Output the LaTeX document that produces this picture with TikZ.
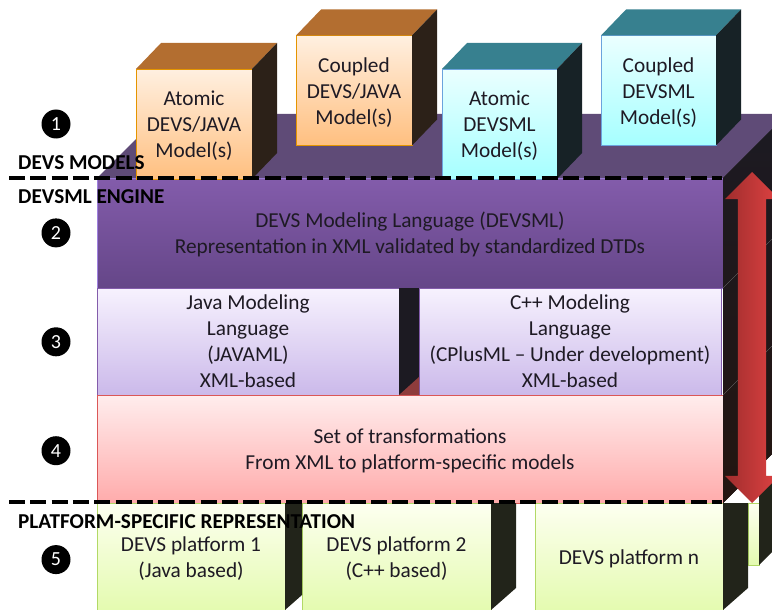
\documentclass[tikz,border=0pt]{standalone}
\usepackage{fontspec}
\setmainfont{Carlito}
\usetikzlibrary{arrows.meta, shapes, positioning, calc}
\newcommand{\headroom}{\rule{0pt}{18pt}}
\definecolor{inktext}{HTML}{1E1A24}
\definecolor{plate}{HTML}{5F4B77}
\definecolor{darkside}{HTML}{1C1A22}
\definecolor{greenside}{HTML}{22241A}
\definecolor{redface}{HTML}{8E3C3C}
\tikzset{
	box/.style = { draw, outer sep = 0, inner sep = 0, align = center, text = inktext, font = \fontsize{21.3}{26}\selectfont },
	cubejava/.style = { box, draw = orange!70!yellow!90!black, top color = orange!12!white, bottom color = orange!50!white, minimum width = 116pt, minimum height = 110pt },
	cubeml/.style = { box, draw = cyan!60!blue!60!white, top color = cyan!8!white, bottom color = cyan!35!white, minimum width = 115pt, minimum height = 110pt },
	dsl/.style = { box, draw = violet!50!blue!50!white, top color = dsltop, bottom color = dslbottom, minimum width = 626pt, minimum height = 110pt },
	lang/.style = { box, draw = dsltop, top color = langtop, bottom color = langbottom, minimum width = 302pt, minimum height = 107pt },
	transform/.style = { box, draw = red!65!gray!80, top color = red!7!white, bottom color = red!33!white, minimum width = 626pt, minimum height = 108pt },
	platform/.style = { box, draw = green!50!black!50!yellow!60, top color = platetop, bottom color = platebottom, minimum height = 107pt },
	number/.style = { circle, fill = black, text = white, inner sep = 0, minimum size = 29pt, font = \fontsize{20}{20}\selectfont },
	heading/.style = { anchor = west, inner sep = 0, text = black, font = \fontsize{21.2}{22}\selectfont\bfseries },
	divider/.style = { black, line width = 4.5pt, dash pattern = on 16pt off 5.3pt },
	topjava/.style = { fill = {rgb,255:red,179;green,110;blue,48} },
	topml/.style = { fill = {rgb,255:red,55;green,128;blue,143} },
	sidejava/.style = { fill = {rgb,255:red,44;green,33;blue,24} },
	sideml/.style = { fill = {rgb,255:red,23;green,34;blue,38} },
	updown/.style = { double arrow, double arrow tip angle = 90, double arrow head extend = 13pt, minimum width = 54pt, minimum height = 331pt, inner xsep = 0, inner ysep = 14pt, outer sep = 0, rotate = 90, left color = {rgb,255:red,160;green,45;blue,45}, right color = {rgb,255:red,222;green,66;blue,66} }
}
\definecolor{dsltop}{HTML}{835CAB}
\definecolor{dslbottom}{HTML}{654688}
\definecolor{langtop}{HTML}{F7F2FE}
\definecolor{langbottom}{HTML}{CBB9EA}
\definecolor{platetop}{HTML}{FDFFF0}
\definecolor{platebottom}{HTML}{E4FBB0}
\begin{document}
\begin{tikzpicture}[x = 1pt, y = -1pt]
	\useasboundingbox (0,0) rectangle (772,610);

	\node [dsl] (dsl) at (410,233) {\headroom DEVS Modeling Language (DEVSML)\\Representation in XML validated by standardized DTDs};
	\node [lang, below = 0pt of dsl.south west, anchor = north west] (java) {Java Modeling\\Language\\(JAVAML)\\XML-based};
	\node [lang, right = 20pt of java] (cpp) {C++ Modeling\\Language\\(CPlusML -- Under development)\\XML-based};
	\node [transform, below = 0pt of java.south west, anchor = north west] (trans) {\headroom Set of transformations\\From XML to platform-specific models};

	% top plate and the sides behind the layers
	\fill [plate] (dsl.north west) -- ++(64,-64) -- (772,114) -- (772,129) -- (dsl.north east) -- cycle;
	\fill [darkside] (java.north east) rectangle (cpp.south west);
	\fill [redface] (java.south east) -- (cpp.west |- 377,377) -- (cpp.south west) -- cycle;

	\node [cubejava] (a1) at (194,124) {\headroom Atomic\\DEVS/JAVA\\Model(s)};
	\node [cubejava] (c1) at (354,90.5) {\headroom Coupled\\DEVS/JAVA\\Model(s)};
	\node [cubeml] (a2) at (499.5,124) {\headroom Atomic\\DEVSML\\Model(s)};
	\node [cubeml] (c2) at (658.5,90.5) {\headroom Coupled\\DEVSML\\Model(s)};

	\fill [topjava] (a1.north west) -- ++(25,-26) -- ++(116,0) -- (a1.north east) -- cycle;
	\fill [topjava] (c1.north west) -- ++(25,-26) -- ++(116,0) -- (c1.north east) -- cycle;
	\fill [topml] (a2.north west) -- ++(25,-26) -- ++(115,0) -- (a2.north east) -- cycle;
	\fill [topml] (c2.north west) -- ++(25,-26) -- ++(115,0) -- (c2.north east) -- cycle;
	\fill [sidejava] (a1.north east) -- ++(25,-26) -- ++(0,110) -- (a1.south east) -- cycle;
	\fill [sidejava] (c1.north east) -- ++(25,-26) -- ++(0,110) -- (c1.south east) -- cycle;
	\fill [sideml] (a2.north east) -- ++(25,-26) -- ++(0,110) -- (a2.south east) -- cycle;
	\fill [sideml] (c2.north east) -- ++(25,-26) -- ++(0,110) -- (c2.south east) -- cycle;

	\node [platform, minimum width = 188pt, below = 0pt of trans.south west, anchor = north west] (p1) {\headroom DEVS platform 1\\(Java based)};
	\node [platform, minimum width = 189pt, right = 17pt of p1] (p2) {\headroom DEVS platform 2\\(C++ based)};
	\node [platform, minimum width = 188pt, right = 44pt of p2] (pn) {\rule{0pt}{20pt}DEVS platform n};
	\node [platform, minimum width = 11pt, minimum height = 62pt, right = 25pt of pn.north east, anchor = north west] (pb) {};

	\fill [greenside] (p1.north east) -- ++(17,0) -- ++(0,92) -- (p1.south east) -- cycle;
	\fill [greenside] (p2.north east) -- ++(25,0) -- ++(0,85) -- (p2.south east) -- cycle;
	\fill [greenside] (pn.north east) -- ++(25,0) -- ++(0,85) -- (pn.south east) -- cycle;
	\fill [greenside] (pb.north east) -- ++(0,-25) -- ++(13,0) -- ++(0,74) -- (pb.south east) -- cycle;

	% the long dark side, with the layer edges on it
	\fill [top color = darkside, bottom color = {rgb,255:red,36;green,21;blue,16}] (dsl.north east) -- ++(49,-49) -- ++(0,325) -- (trans.south east) -- cycle;
	\draw [gray, ultra thin] (dsl.south east) -- ++(49,-49);
	\draw [gray, ultra thin] (trans.north east) -- ++(49,-49);
	\node [updown] (updown) at (752,337.5) {};

	\node [number] (n1) at (56,124) {1};
	\node [number, below = 79.5pt of n1] (n2) {2};
	\node [number, below = 79.5pt of n2] (n3) {3};
	\node [number, below = 79.5pt of n3] (n4) {4};
	\node [number, below = 79.5pt of n4] (n5) {5};

	\coordinate (d1a) at (9,178);
	\coordinate (d1b) at (722,178);
	\coordinate (d2a) at (9,502);
	\coordinate (d2b) at (722,502);
	\draw [divider] (d1a) -- (d1b);
	\draw [divider] (d2a) -- (d2b);

	\node [heading] (models) at (18,163) {DEVS MODELS};
	\node [heading] (engine) at (18,197) {DEVSML ENGINE};
	\node [heading] (specific) at (18,522) {PLATFORM-SPECIFIC REPRESENTATION};
\end{tikzpicture}
\end{document}
